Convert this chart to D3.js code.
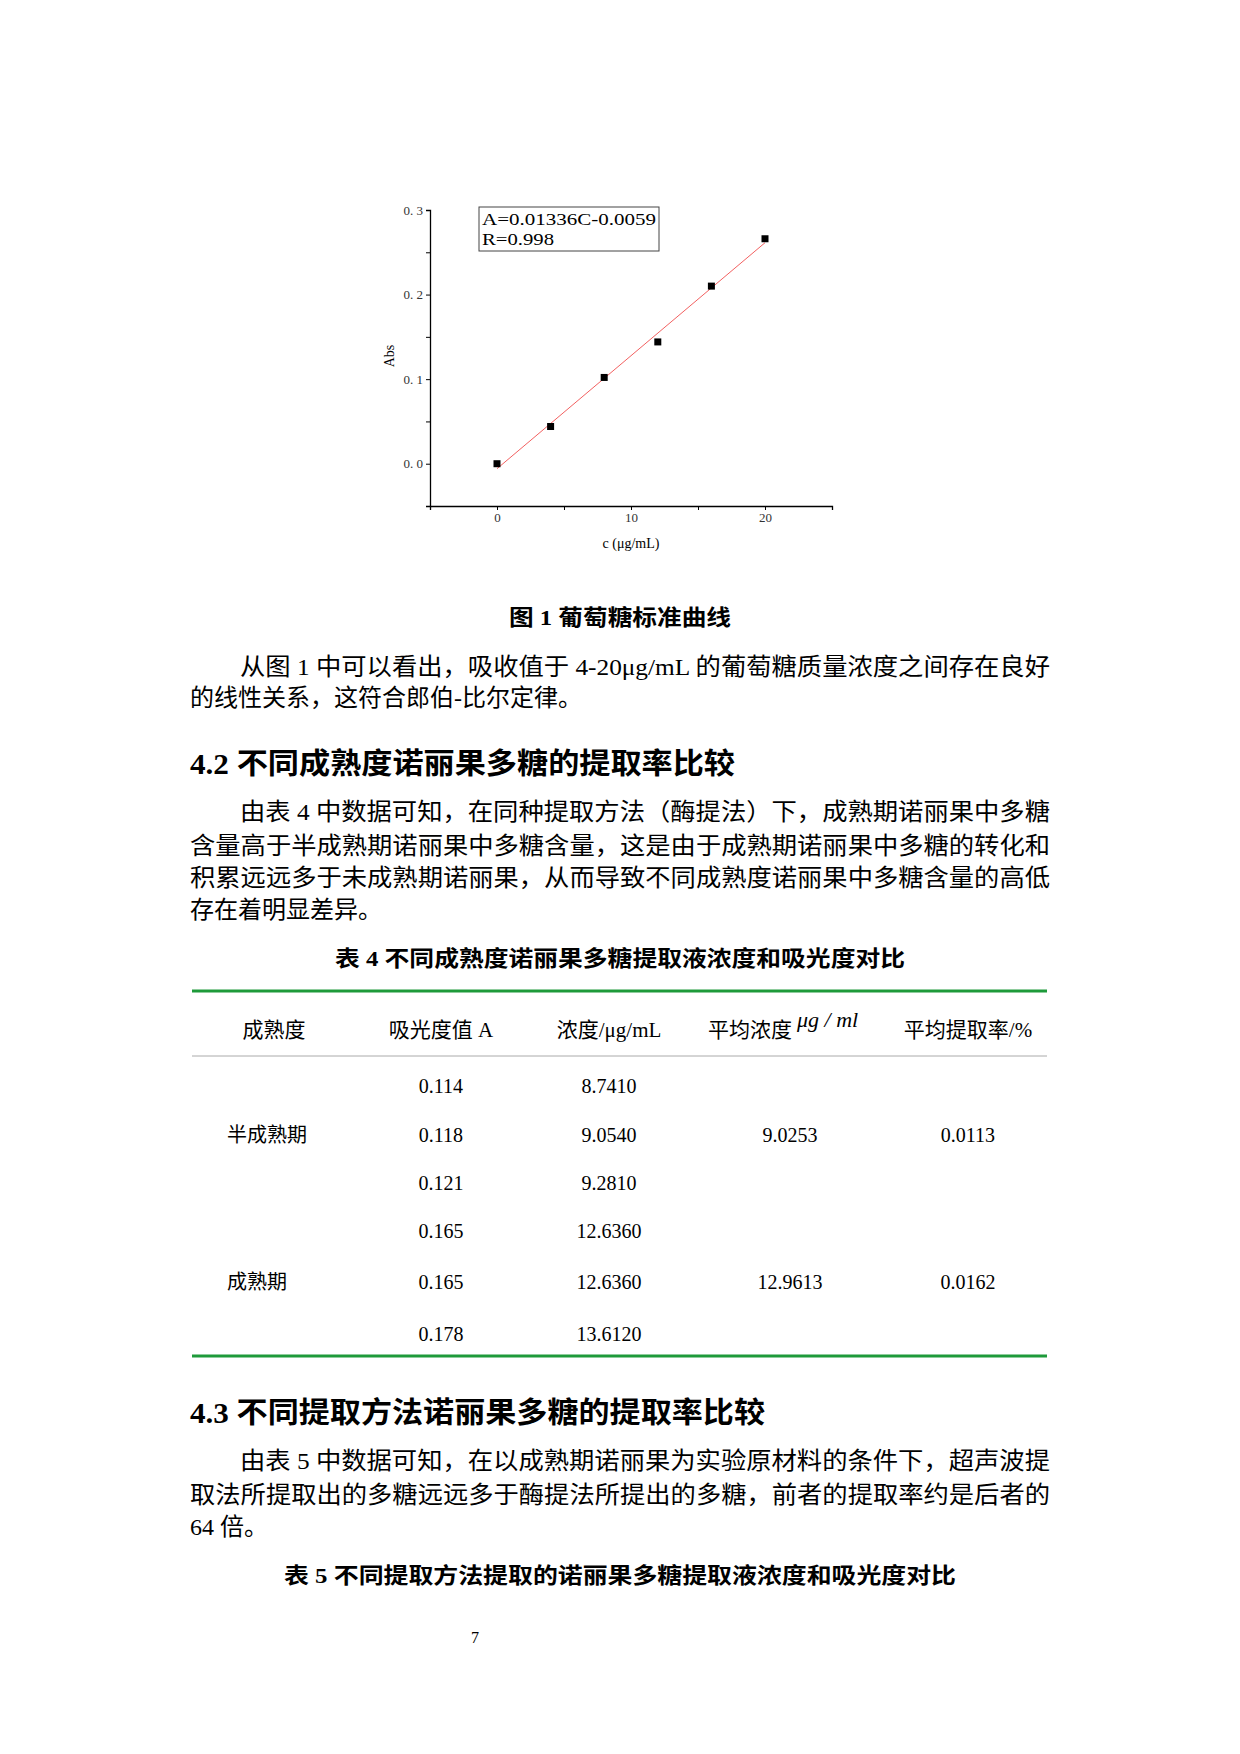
<!DOCTYPE html>
<html><head><meta charset="utf-8">
<script src="https://cdn.jsdelivr.net/npm/d3@7"></script>
<style>
body{margin:0;background:#fff;}
svg text{font-family:"Liberation Serif","Noto Sans CJK SC",serif;}
</style></head>
<body>
<svg id="page" width="1240" height="1754"></svg>
<script>
// standard curve data
let conc = [0, 4, 8, 12, 16, 20];
let absVals = [0.0, 0.044, 0.102, 0.144, 0.21, 0.266];
let slope = 0.01336, intercept = -0.0059;
let yTicks = [0.0, 0.1, 0.2, 0.3];
let xTicks = [0, 10, 20];

// table 4
let tHead = ["成熟度", "吸光度值 A", "浓度/μg/mL", "平均浓度", "平均提取率/%"];
let stages = ["半成熟期", "成熟期"];
let absorb = ["0.114", "0.118", "0.121", "0.165", "0.165", "0.178"];
let concs = ["8.7410", "9.0540", "9.2810", "12.6360", "12.6360", "13.6120"];
let meanConc = ["9.0253", "12.9613"];
let meanRate = ["0.0113", "0.0162"];

let svg = d3.select("#page");
let x = d3.scaleLinear().domain([-5, 25]).range([430, 832]);
let y = d3.scaleLinear().domain([-0.05, 0.3]).range([506, 210]);

let g = svg.append("g");
g.append("g").attr("transform", "translate(0,506)")
  .call(d3.axisBottom(x).tickValues(d3.range(-5, 26, 5)).tickSize(4).tickFormat(d => xTicks.includes(d) ? d : ""))
  .call(a => a.select(".domain").attr("stroke-width", 1.3));
g.append("g").attr("transform", "translate(430,0)")
  .call(d3.axisLeft(y).tickValues(d3.range(-0.05, 0.31, 0.05)).tickSize(4)
    .tickFormat(d => yTicks.some(t => Math.abs(t - d) < 1e-6) ? d3.format(".1f")(d).replace(".", ". ") : ""))
  .call(a => a.select(".domain").attr("stroke-width", 1.3));
g.selectAll(".tick text").attr("font-size", 13).attr("fill", "#333");

g.append("line").attr("x1", x(0)).attr("x2", x(20))
  .attr("y1", y(intercept)).attr("y2", y(slope * 20 + intercept))
  .attr("stroke", "#f26060").attr("stroke-width", 1);
g.selectAll("rect.pt").data(conc).join("rect").attr("class", "pt")
  .attr("x", (d) => x(d) - 3.5).attr("y", (d, i) => y(absVals[i]) - 3.5)
  .attr("width", 7).attr("height", 7).attr("fill", "#000");

g.append("rect").attr("x", 479).attr("y", 207).attr("width", 180).attr("height", 44)
  .attr("fill", "none").attr("stroke", "#444");
g.append("text").attr("x", 482).attr("y", 225).attr("font-size", 16).attr("font-family", "DejaVu Sans Mono")
  .attr("textLength", 174).attr("lengthAdjust", "spacingAndGlyphs").text("A=0.01336C-0.0059");
g.append("text").attr("x", 482).attr("y", 245).attr("font-size", 16).attr("font-family", "DejaVu Sans Mono")
  .attr("textLength", 72).attr("lengthAdjust", "spacingAndGlyphs").text("R=0.998");
g.append("text").attr("transform", "translate(394,356) rotate(-90)").attr("text-anchor", "middle")
  .attr("font-size", 14).text("Abs");
g.append("text").attr("x", 631).attr("y", 548).attr("text-anchor", "middle").attr("font-size", 14)
  .text("c  (μg/mL)");

// body text
function txt(s, xx, yy, size, opts = {}) {
  return svg.append("text").attr("x", xx).attr("y", yy).attr("font-size", size)
    .attr("text-anchor", opts.anchor || "start").attr("font-weight", opts.bold ? "bold" : "normal")
    .attr("textLength", opts.len || null).attr("lengthAdjust", "spacingAndGlyphs").text(s);
}
txt("图 1 葡萄糖标准曲线", 620, 625, 22, {anchor: "middle", bold: true, len: 222});
txt("从图 1 中可以看出，吸收值于 4-20μg/mL 的葡萄糖质量浓度之间存在良好", 240, 675, 24, {len: 810});
txt("的线性关系，这符合郎伯-比尔定律。", 190, 706, 24);
txt("4.2 不同成熟度诺丽果多糖的提取率比较", 190, 774, 29, {bold: true, len: 545});
txt("由表 4 中数据可知，在同种提取方法（酶提法）下，成熟期诺丽果中多糖", 240, 820, 24, {len: 810});
txt("含量高于半成熟期诺丽果中多糖含量，这是由于成熟期诺丽果中多糖的转化和", 190, 854, 24, {len: 860});
txt("积累远远多于未成熟期诺丽果，从而导致不同成熟度诺丽果中多糖含量的高低", 190, 886, 24, {len: 860});
txt("存在着明显差异。", 190, 918, 24);
txt("表 4 不同成熟度诺丽果多糖提取液浓度和吸光度对比", 620, 966, 22, {anchor: "middle", bold: true, len: 570});

// table
let cols = [274, 441, 609, 790, 968];
svg.append("line").attr("x1", 192).attr("x2", 1047).attr("y1", 991).attr("y2", 991).attr("stroke", "#1e9a3a").attr("stroke-width", 3);
svg.append("line").attr("x1", 192).attr("x2", 1047).attr("y1", 1056).attr("y2", 1056).attr("stroke", "#aaa").attr("stroke-width", 1);
svg.append("line").attr("x1", 192).attr("x2", 1047).attr("y1", 1356).attr("y2", 1356).attr("stroke", "#1e9a3a").attr("stroke-width", 3);
tHead.forEach((h, i) => txt(h, cols[i] - (i == 3 ? 40 : 0), 1037, 21, {anchor: "middle"}));
svg.append("text").attr("x", 797).attr("y", 1027).attr("font-size", 22).attr("font-style", "italic").text("μg / ml");
let rowY = [1093, 1142, 1190, 1238, 1289, 1341];
absorb.forEach((a, i) => { txt(a, cols[1], rowY[i], 20, {anchor: "middle"}); txt(concs[i], cols[2], rowY[i], 20, {anchor: "middle"}); });
stages.forEach((s, i) => {
  let yy = i == 0 ? rowY[1] : rowY[4];
  txt(s, 227, yy, 20);
  txt(meanConc[i], cols[3], yy, 20, {anchor: "middle"});
  txt(meanRate[i], cols[4], yy, 20, {anchor: "middle"});
});

txt("4.3 不同提取方法诺丽果多糖的提取率比较", 190, 1423, 29, {bold: true, len: 575});
txt("由表 5 中数据可知，在以成熟期诺丽果为实验原材料的条件下，超声波提", 240, 1469, 24, {len: 810});
txt("取法所提取出的多糖远远多于酶提法所提出的多糖，前者的提取率约是后者的", 190, 1503, 24, {len: 860});
txt("64 倍。", 190, 1535, 24);
txt("表 5 不同提取方法提取的诺丽果多糖提取液浓度和吸光度对比", 620, 1583, 22, {anchor: "middle", bold: true, len: 672});
txt("7", 475, 1643, 16, {anchor: "middle"});
</script>
</body></html>
